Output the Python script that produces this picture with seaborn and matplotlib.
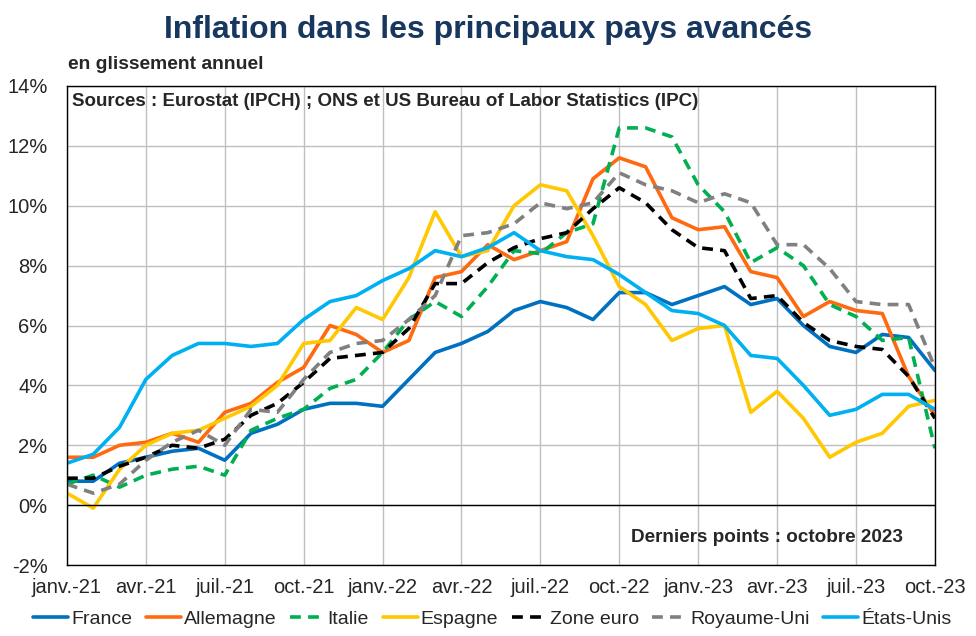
import numpy as np
import pandas as pd
import seaborn as sns
from matplotlib import pyplot as plt
from matplotlib.ticker import FuncFormatter

# mois de janv.-21 à oct.-23
mois = pd.date_range("2021-01-01", "2023-10-01", freq="MS")
tick_labels = ["janv.-21", "avr.-21", "juil.-21", "oct.-21", "janv.-22", "avr.-22",
               "juil.-22", "oct.-22", "janv.-23", "avr.-23", "juil.-23", "oct.-23"]

france = [0.8, 0.8, 1.4, 1.6, 1.8, 1.9, 1.5, 2.4, 2.7, 3.2, 3.4, 3.4,
          3.3, 4.2, 5.1, 5.4, 5.8, 6.5, 6.8, 6.6, 6.2, 7.1, 7.1, 6.7,
          7.0, 7.3, 6.7, 6.9, 6.0, 5.3, 5.1, 5.7, 5.6, 4.5]
allemagne = [1.6, 1.6, 2.0, 2.1, 2.4, 2.1, 3.1, 3.4, 4.1, 4.6, 6.0, 5.7,
             5.1, 5.5, 7.6, 7.8, 8.7, 8.2, 8.5, 8.8, 10.9, 11.6, 11.3, 9.6,
             9.2, 9.3, 7.8, 7.6, 6.3, 6.8, 6.5, 6.4, 4.3, 3.0]
italie = [0.7, 1.0, 0.6, 1.0, 1.2, 1.3, 1.0, 2.5, 2.9, 3.2, 3.9, 4.2,
          5.1, 6.2, 6.8, 6.3, 7.3, 8.5, 8.4, 9.1, 9.4, 12.6, 12.6, 12.3,
          10.7, 9.8, 8.1, 8.6, 8.0, 6.7, 6.3, 5.5, 5.6, 1.9]
espagne = [0.4, -0.1, 1.2, 2.0, 2.4, 2.5, 2.9, 3.3, 4.0, 5.4, 5.5, 6.6,
           6.2, 7.6, 9.8, 8.3, 8.5, 10.0, 10.7, 10.5, 9.0, 7.3, 6.7, 5.5,
           5.9, 6.0, 3.1, 3.8, 2.9, 1.6, 2.1, 2.4, 3.3, 3.5]
zone_euro = [0.9, 0.9, 1.3, 1.6, 2.0, 1.9, 2.2, 3.0, 3.4, 4.1, 4.9, 5.0,
             5.1, 5.9, 7.4, 7.4, 8.1, 8.6, 8.9, 9.1, 9.9, 10.6, 10.1, 9.2,
             8.6, 8.5, 6.9, 7.0, 6.1, 5.5, 5.3, 5.2, 4.3, 2.9]
royaume_uni = [0.7, 0.4, 0.7, 1.5, 2.1, 2.5, 2.0, 3.2, 3.1, 4.2, 5.1, 5.4,
               5.5, 6.2, 7.0, 9.0, 9.1, 9.4, 10.1, 9.9, 10.1, 11.1, 10.7, 10.5,
               10.1, 10.4, 10.1, 8.7, 8.7, 7.9, 6.8, 6.7, 6.7, 4.6]
etats_unis = [1.4, 1.7, 2.6, 4.2, 5.0, 5.4, 5.4, 5.3, 5.4, 6.2, 6.8, 7.0,
              7.5, 7.9, 8.5, 8.3, 8.6, 9.1, 8.5, 8.3, 8.2, 7.7, 7.1, 6.5,
              6.4, 6.0, 5.0, 4.9, 4.0, 3.0, 3.2, 3.7, 3.7, 3.2]

series = {
    "France": france,
    "Allemagne": allemagne,
    "Italie": italie,
    "Espagne": espagne,
    "Zone euro": zone_euro,
    "Royaume-Uni": royaume_uni,
    "États-Unis": etats_unis,
}
couleurs = {
    "France": "#0070C0",
    "Allemagne": "#FF6A10",
    "Italie": "#00B050",
    "Espagne": "#FFC800",
    "Zone euro": "#000000",
    "Royaume-Uni": "#808080",
    "États-Unis": "#00B0F0",
}
tirets = {
    "France": "",
    "Allemagne": "",
    "Italie": (3, 2),
    "Espagne": "",
    "Zone euro": (3, 2),
    "Royaume-Uni": (3, 2),
    "États-Unis": "",
}

rows = []
for pays, vals in series.items():
    for i, v in enumerate(vals):
        rows.append({"idx": i, "valeur": v, "pays": pays})
df = pd.DataFrame(rows)

sns.set_style("white")
plt.rcParams["font.family"] = ["Liberation Sans", "DejaVu Sans"]

fig = plt.figure(figsize=(9.76, 6.36), dpi=100)
ax = fig.add_axes([0.0686, 0.1116, 0.8893, 0.7532])

sns.lineplot(data=df, x="idx", y="valeur", hue="pays", style="pays",
             palette=couleurs, dashes=tirets, linewidth=2.6, ax=ax,
             hue_order=list(series), style_order=list(series))

ax.set_xlim(0, len(mois) - 1)
ax.set_ylim(-2, 14)
ax.set_yticks(np.arange(-2, 15, 2))
ax.yaxis.set_major_formatter(FuncFormatter(lambda v, p: f"{v:.0f}%"))
ax.set_xticks(np.arange(0, len(mois), 3))
ax.set_xticklabels(tick_labels)
ax.tick_params(axis="x", labelsize=14.5, length=0, pad=9)
ax.tick_params(axis="y", labelsize=14.5, length=0, pad=14)
ax.grid(True, color="#BFBFBF", linewidth=1)
ax.axhline(0, color="black", linewidth=1)
for s in ax.spines.values():
    s.set_color("black")
    s.set_linewidth(1)
ax.set_xlabel("")
ax.set_ylabel("")

ax.text(0.006, 0.985, "Sources : Eurostat (IPCH) ; ONS et US Bureau of Labor Statistics (IPC)",
        transform=ax.transAxes, fontsize=13.5, fontweight="bold", va="top", ha="left")
ax.text(0.963, 0.04, "Derniers points : octobre 2023",
        transform=ax.transAxes, fontsize=13.6, fontweight="bold", va="bottom", ha="right")
fig.text(0.07, 0.886, "en glissement annuel", fontsize=13.9, fontweight="bold",
         va="bottom", ha="left")
fig.text(0.5, 1 - 30 / 636, "Inflation dans les principaux pays avancés",
         fontsize=23, fontweight="bold", color="#17375E", ha="center", va="center")

ax.legend(title=None, loc="center", bbox_to_anchor=(0.49, -0.113), ncol=7,
          frameon=False, fontsize=14, handlelength=1.8, handletextpad=0.15,
          columnspacing=0.7, borderaxespad=0)

fig.savefig("out.png", dpi=100)
